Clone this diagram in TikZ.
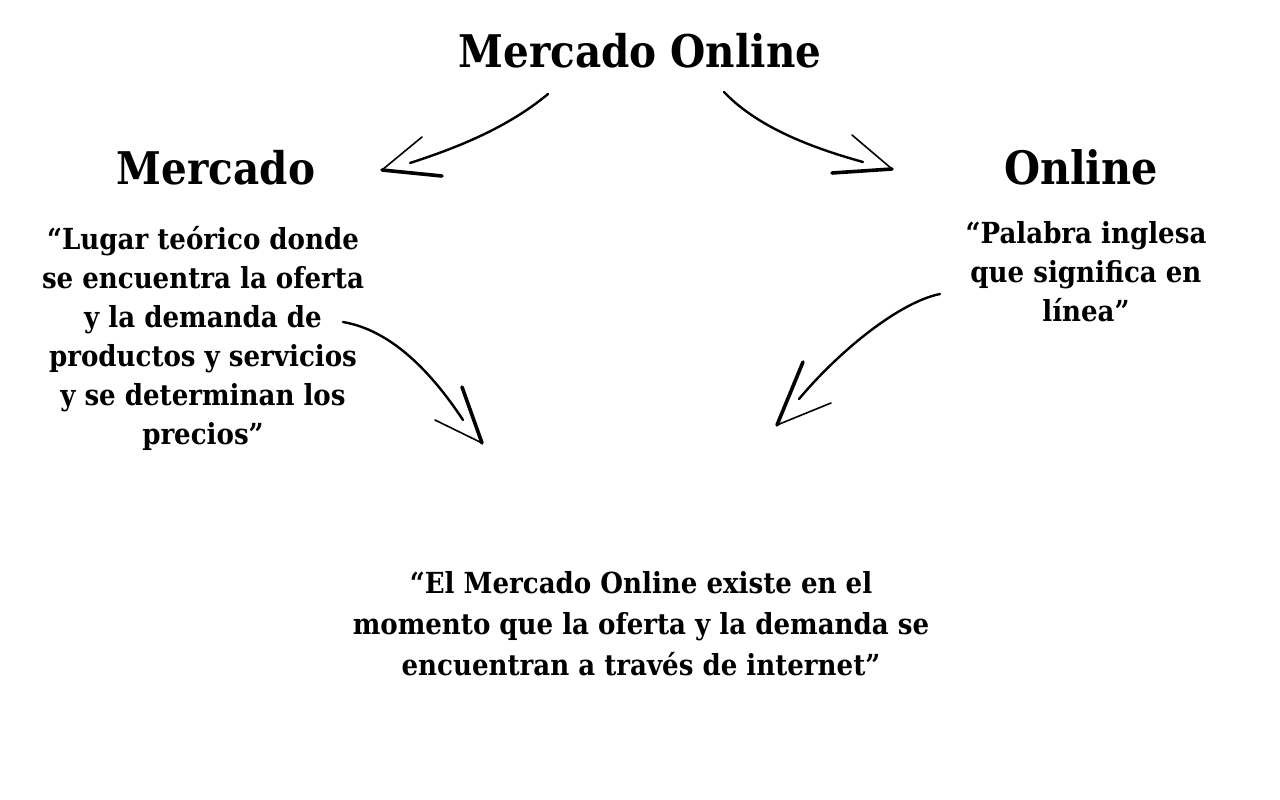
\documentclass[tikz,border=0pt]{standalone}
\usepackage{fontspec}
\setmainfont{DejaVu Serif Condensed}
\begin{document}
\begin{tikzpicture}[x=1pt,y=-1pt,
  title/.style={font=\bfseries\fontsize{45}{50}\selectfont, inner sep=0pt, anchor=base},
  para/.style={font=\bfseries\fontsize{29}{39}\selectfont, align=center, inner sep=0pt},
  parab/.style={font=\bfseries\fontsize{29}{41}\selectfont, align=center, inner sep=0pt},
  shaft/.style={line width=2.4pt, line cap=round},
  barb/.style={line width=1.6pt, line cap=round},
  barbthick/.style={line width=3.6pt, line cap=round}]
\useasboundingbox (0,0) rectangle (1280,800);
\node[title] (main) at (640,68) {Mercado Online};
\node[title] (merc) at (216,184) {Mercado};
\node[title, font=\bfseries\fontsize{46}{50}\selectfont] (onl) at (1081,184) {Online};
\node[para] (ldef) at (203,338) {“Lugar teórico donde\\se encuentra la oferta\\y la demanda de\\productos y servicios\\y se determinan los\\precios”};
\node[para] (rdef) at (1086,272) {“Palabra inglesa\\que significa en\\línea”};
\node[parab] (bdef) at (641,624) {“El Mercado Online existe en el\\momento que la oferta y la demanda se\\encuentran a través de internet”};
% arrow 1
\coordinate (a1s) at (548,94); \coordinate (a1e) at (410,163);
\coordinate (a1u) at (422,137); \coordinate (a1t) at (382,170); \coordinate (a1l) at (442,176);
\draw[shaft] (a1s) .. controls (505,130) and (450,150) .. (a1e);
\draw[barb] (a1u) -- (a1t);
\draw[barbthick] (a1t) -- (a1l);
% arrow 2
\coordinate (a2s) at (724,92); \coordinate (a2e) at (863,162);
\coordinate (a2u) at (852,135); \coordinate (a2t) at (892,169); \coordinate (a2l) at (832,173);
\draw[shaft] (a2s) .. controls (760,130) and (820,150) .. (a2e);
\draw[barb] (a2u) -- (a2t);
\draw[barbthick] (a2t) -- (a2l);
% arrow 3
\coordinate (a3s) at (343,322); \coordinate (a3e) at (463,420);
\coordinate (a3u) at (462,387); \coordinate (a3t) at (482,443); \coordinate (a3l) at (435,420);
\draw[shaft] (a3s) .. controls (390,330) and (430,370) .. (a3e);
\draw[barbthick] (a3u) -- (a3t);
\draw[barb] (a3t) -- (a3l);
% arrow 4
\coordinate (a4s) at (940,294); \coordinate (a4e) at (799,399);
\coordinate (a4u) at (803,362); \coordinate (a4t) at (777,425); \coordinate (a4l) at (831,403);
\draw[shaft] (a4s) .. controls (900,302) and (840,350) .. (a4e);
\draw[barbthick] (a4u) -- (a4t);
\draw[barb] (a4t) -- (a4l);
\end{tikzpicture}
\end{document}
